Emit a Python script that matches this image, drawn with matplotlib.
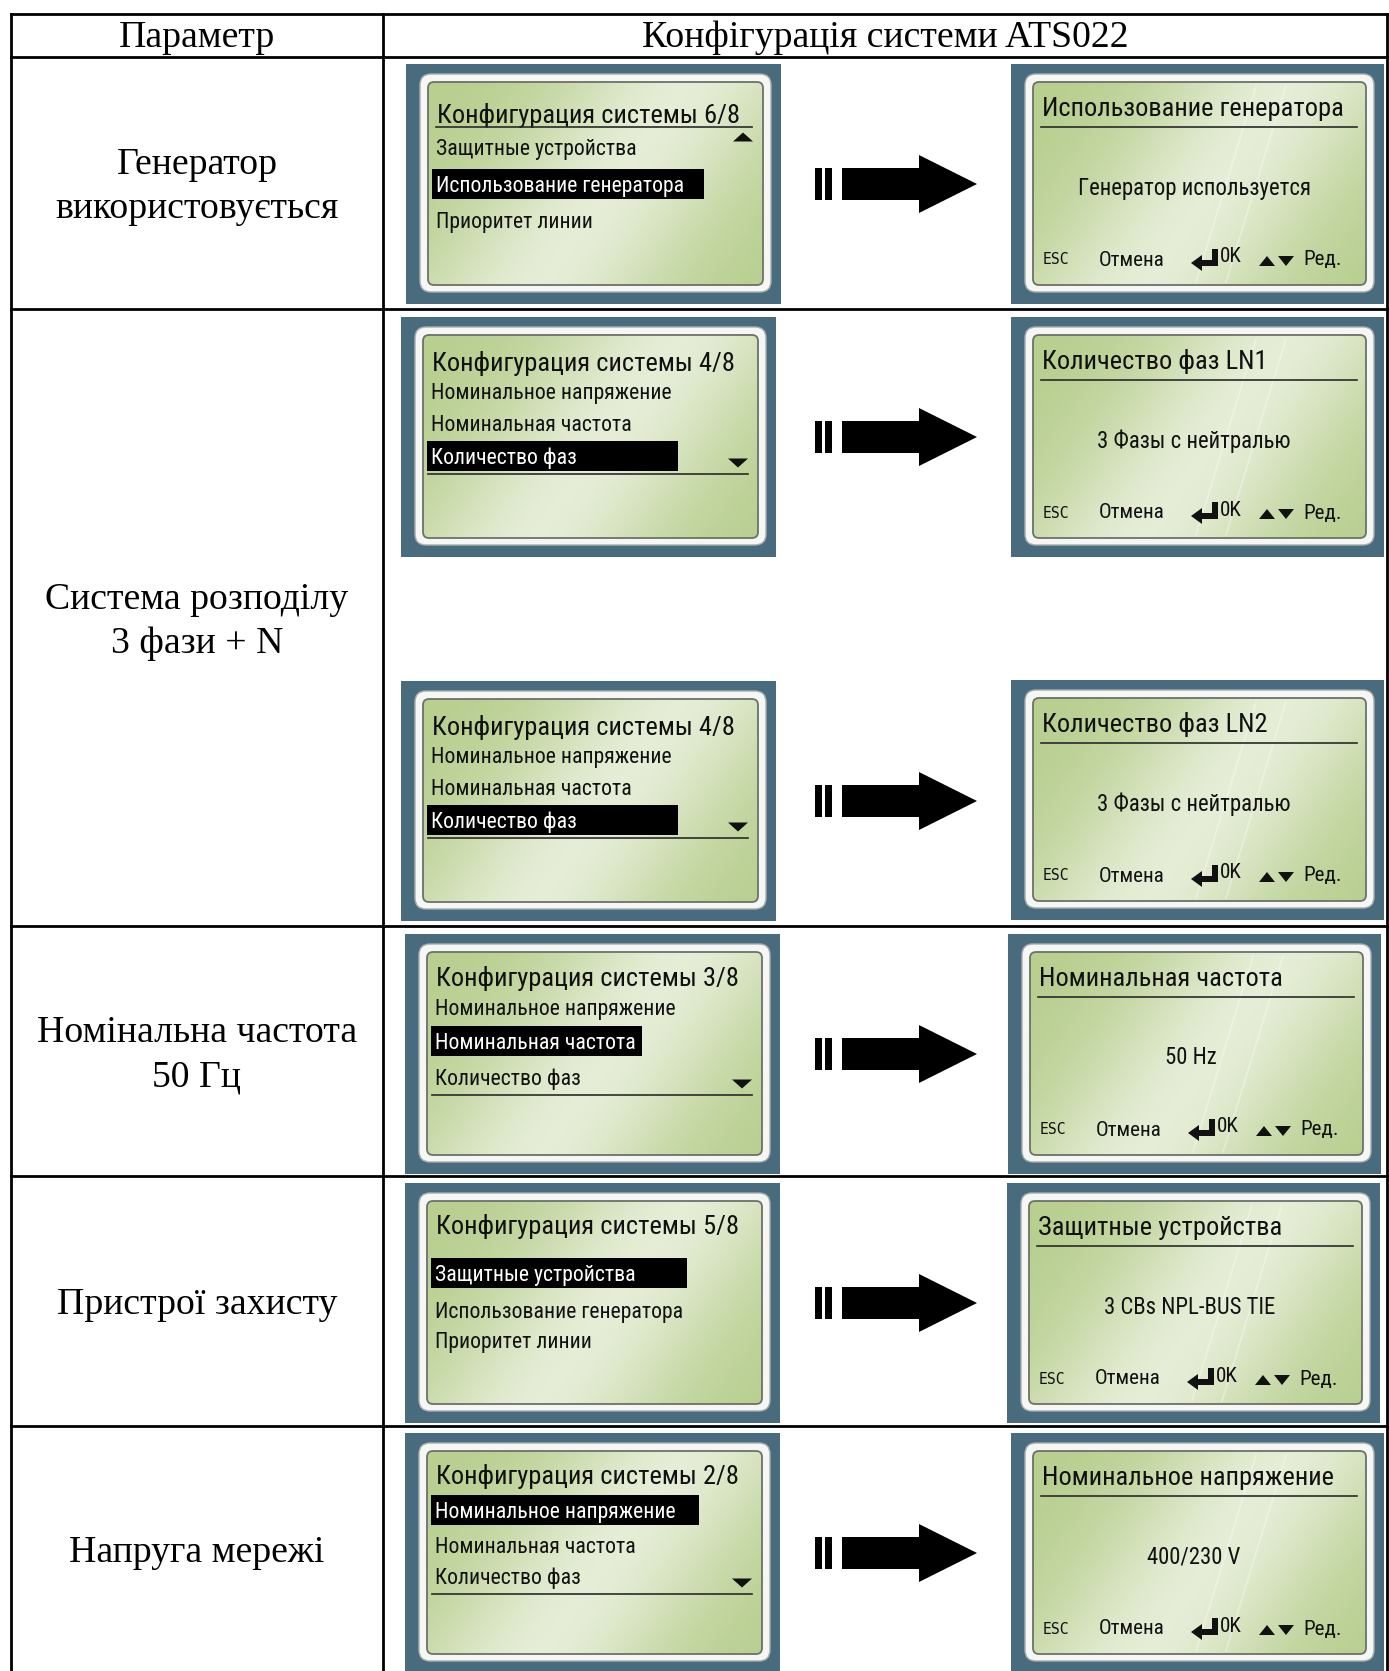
import numpy as np
import matplotlib
matplotlib.use("Agg")
import matplotlib.pyplot as plt
from matplotlib.patches import Rectangle, FancyBboxPatch, Polygon

W, H = 1389, 1671

# ---- table content ----
header = ["Параметр", "Конфігурація системи ATS022"]
row_labels = ["Генератор\nвикористовується", "Система розподілу\n3 фази + N",
              "Номінальна частота\n50 Гц", "Пристрої захисту", "Напруга мережі"]

# ---- LCD screens (one per arrow) ----
menu_titles = ["Конфигурация системы 6/8", "Конфигурация системы 4/8",
               "Конфигурация системы 4/8", "Конфигурация системы 3/8",
               "Конфигурация системы 5/8", "Конфигурация системы 2/8"]
items_prot = ["Защитные устройства", "Использование генератора", "Приоритет линии"]
items_volt = ["Номинальное напряжение", "Номинальная частота", "Количество фаз"]
menu_items = [items_prot, items_volt, items_volt, items_volt, items_prot, items_volt]
menu_selected = [1, 2, 2, 1, 0, 0]
menu_scroll = ["up", "down", "down", "down", None, "down"]
value_titles = ["Использование генератора", "Количество фаз LN1", "Количество фаз LN2",
                "Номинальная частота", "Защитные устройства", "Номинальное напряжение"]
value_texts = ["Генератор используется", "3 Фазы с нейтралью", "3 Фазы с нейтралью",
               "50 Hz", "3 CBs NPL-BUS TIE", "400/230 V"]
footer = ["ESC", "Отмена", "0K", "Ред."]

# ---- layout (pixels) ----
row_lines = [14, 57, 309, 926, 1176, 1426]
col_x = [11, 383, 1387]
left_scr = [(406, 64), (401, 317), (401, 681), (405, 934), (405, 1183), (405, 1433)]
right_scr = [(1011, 64), (1011, 317), (1011, 680), (1008, 934), (1007, 1183), (1011, 1433)]
SCR_WL, SCR_WR, SCR_H = 375, 373, 240
title_base = [59, 54, 54, 52, 51, 51]
title_rule = [True, False, False, False, False, False]
item_y = [(83, 120, 156), (74, 106, 139), (74, 106, 139), (73, 107, 143), (90, 127, 157), (77, 112, 143)]
hl_w = [272, 251, 251, 208, 256, 268]
ARROW_X = 895

SERIF = ["Liberation Serif", "DejaVu Serif"]
LCD = ["Roboto Condensed", "Liberation Sans Narrow", "Open Sans Condensed", "DejaVu Sans"]
FRAME = "#486c7e"
INK = "#111111"

fig = plt.figure(figsize=(W / 100, H / 100), dpi=100)
ax = fig.add_axes([0, 0, 1, 1])
ax.set_xlim(0, W)
ax.set_ylim(H, 0)
ax.axis("off")
renderer = fig.canvas.get_renderer()


def lcd_text(x, y, s, fs, **kw):
    kw.setdefault("color", INK)
    kw.setdefault("zorder", 4)
    return ax.text(x, y, s, fontsize=fs, family=LCD, fontstretch="condensed", **kw)


def text_w(t):
    return t.get_window_extent(renderer=renderer).width


def fit_size(text, target_w, serif=False, base=20.0):
    if serif:
        t = ax.text(0, 0, text, fontsize=base, family=SERIF)
    else:
        t = lcd_text(0, 0, text, base)
    w = text_w(t)
    t.remove()
    return base * target_w / w


fs_tab = fit_size(header[1], 488, serif=True)
fs_title = fit_size("Конфигурация системы 4/8", 303)
fs_item = fit_size("Номинальное напряжение", 240)
fs_value = fit_size("Генератор используется", 232)
fs_foot = fit_size("Отмена", 66)
cap_item = 0.71 * fs_item * 100 / 72

# gradient for the LCD glass
yy, xx = np.mgrid[0:1:60j, 0:1:100j]
u = xx * 0.8 + yy * 0.35
glow = np.exp(-((u - 0.62) / 0.3) ** 2)
dark = np.array([0.72, 0.81, 0.56])
light = np.array([0.90, 0.93, 0.84])
lcd_img = dark + (light - dark) * glow[..., None]

# ---- table ----
for y in row_lines:
    ax.plot([col_x[0], col_x[-1]], [y, y], color="black", lw=2.0, solid_capstyle="projecting", zorder=5)
for x in col_x:
    ax.plot([x, x], [row_lines[0], H], color="black", lw=2.0, solid_capstyle="projecting", zorder=5)

hy = (row_lines[0] + row_lines[1]) / 2 + 2
ax.text((col_x[0] + col_x[1]) / 2, hy, header[0], fontsize=fs_tab, family=SERIF, ha="center", va="center")
ax.text((col_x[1] + col_x[2]) / 2, hy, header[1], fontsize=fs_tab, family=SERIF, ha="center", va="center")
bounds = row_lines[1:] + [H]
for i, lab in enumerate(row_labels):
    cy = (bounds[i] + bounds[i + 1]) / 2 + 4
    ax.text((col_x[0] + col_x[1]) / 2, cy, lab, fontsize=fs_tab, family=SERIF,
            ha="center", va="center", linespacing=1.35)


def draw_frame(x0, y0, w, h):
    ax.add_patch(Rectangle((x0, y0), w, h, fc=FRAME, ec="none", zorder=0.5))
    r = 11
    ax.add_patch(FancyBboxPatch((x0 + 14 + r, y0 + 10 + r), w - 24 - 2 * r, h - 22 - 2 * r,
                                boxstyle=f"round,pad={r}", fc="#f6f6f4", ec="#a9aeae", lw=1.0, zorder=0.6))
    r2 = 6
    lcd = FancyBboxPatch((x0 + 22 + r2, y0 + 18 + r2), w - 40 - 2 * r2, h - 37 - 2 * r2,
                         boxstyle=f"round,pad={r2}", fc="none", ec="#6b7268", lw=1.3, zorder=0.8)
    ax.add_patch(lcd)
    im = ax.imshow(lcd_img, extent=(x0 + 22, x0 + w - 18, y0 + h - 19, y0 + 18),
                   aspect="auto", interpolation="bicubic", zorder=0.7)
    im.set_clip_path(lcd)


def triangle(cx, cy, up, half_w=10, hgt=9):
    if up:
        pts = [(cx - half_w, cy + hgt / 2), (cx + half_w, cy + hgt / 2), (cx, cy - hgt / 2)]
    else:
        pts = [(cx - half_w, cy - hgt / 2), (cx + half_w, cy - hgt / 2), (cx, cy + hgt / 2)]
    ax.add_patch(Polygon(pts, closed=True, fc=INK, ec="none", zorder=4))


def draw_menu(i):
    x0, y0 = left_scr[i]
    draw_frame(x0, y0, SCR_WL, SCR_H)
    lcd_text(x0 + 31, y0 + title_base[i], menu_titles[i], fs_title, ha="left", va="baseline")
    if title_rule[i]:
        ax.plot([x0 + 30, x0 + 346], [y0 + 63, y0 + 63], color="#2a2a2a", lw=1.2, zorder=4)
    for k, it in enumerate(menu_items[i]):
        cy = y0 + item_y[i][k]
        col = "white" if k == menu_selected[i] else INK
        t = lcd_text(x0 + 30, cy + cap_item / 2, it, fs_item, color=col, ha="left", va="baseline")
        if k == menu_selected[i]:
            bw = max(hl_w[i], text_w(t) + 10)
            ax.add_patch(Rectangle((x0 + 26, cy - 15), bw, 30, fc="black", ec="none", zorder=3))
    if menu_scroll[i] == "up":
        triangle(x0 + 337, y0 + 73, True)
    elif menu_scroll[i] == "down":
        yb = y0 + item_y[i][2]
        triangle(x0 + 337, yb + 7, False)
        ax.plot([x0 + 27, x0 + 347], [yb + 18, yb + 18], color="#2a2a2a", lw=1.2, zorder=4)


def draw_value(i):
    x0, y0 = right_scr[i]
    draw_frame(x0, y0, SCR_WR, SCR_H)
    for dx in (185, 215):
        ax.plot([x0 + dx, x0 + dx + 60], [y0 + SCR_H - 22, y0 + 22], color="white", lw=1.2, alpha=0.35, zorder=0.75)
    lcd_text(x0 + 31, y0 + 52, value_titles[i], fs_title, ha="left", va="baseline")
    ax.plot([x0 + 30, x0 + 346], [y0 + 63, y0 + 63], color="#2a2a2a", lw=1.2, zorder=4)
    lcd_text(x0 + 183, y0 + 124, value_texts[i], fs_value, ha="center", va="center")
    fy = y0 + 196
    ax.text(x0 + 32, fy, footer[0], fontsize=fs_foot * 0.7, family=["DejaVu Sans Mono"], color=INK,
            ha="left", va="center", zorder=4)
    lcd_text(x0 + 88, fy, footer[1], fs_foot, ha="left", va="center")
    # enter key symbol
    ex = x0 + 180
    ax.add_patch(Polygon([(ex, fy + 3), (ex + 11, fy - 5), (ex + 11, fy), (ex + 21, fy),
                          (ex + 21, fy - 11), (ex + 27, fy - 11), (ex + 27, fy + 6),
                          (ex + 11, fy + 6), (ex + 11, fy + 11)], closed=True, fc=INK, ec="none", zorder=4))
    lcd_text(x0 + 209, fy - 3, footer[2], fs_foot, ha="left", va="center")
    triangle(x0 + 256, fy + 1, True, half_w=8, hgt=10)
    triangle(x0 + 275, fy + 1, False, half_w=8, hgt=10)
    lcd_text(x0 + 292, fy, footer[3], fs_foot, ha="left", va="center")


def draw_arrow(cy):
    c = ARROW_X
    ax.add_patch(Rectangle((c - 80, cy - 16), 7, 32, fc="black", ec="none", zorder=3))
    ax.add_patch(Rectangle((c - 70, cy - 16), 7, 32, fc="black", ec="none", zorder=3))
    ax.add_patch(Polygon([(c - 53, cy - 16), (c + 24, cy - 16), (c + 24, cy - 29), (c + 82, cy),
                          (c + 24, cy + 29), (c + 24, cy + 16), (c - 53, cy + 16)],
                         closed=True, fc="black", ec="none", zorder=3))


for i in range(len(menu_titles)):
    draw_menu(i)
    draw_value(i)
    draw_arrow(left_scr[i][1] + SCR_H / 2)

ax.set_xlim(0, W)
ax.set_ylim(H, 0)
fig.savefig("out.png", dpi=100, facecolor="white")
